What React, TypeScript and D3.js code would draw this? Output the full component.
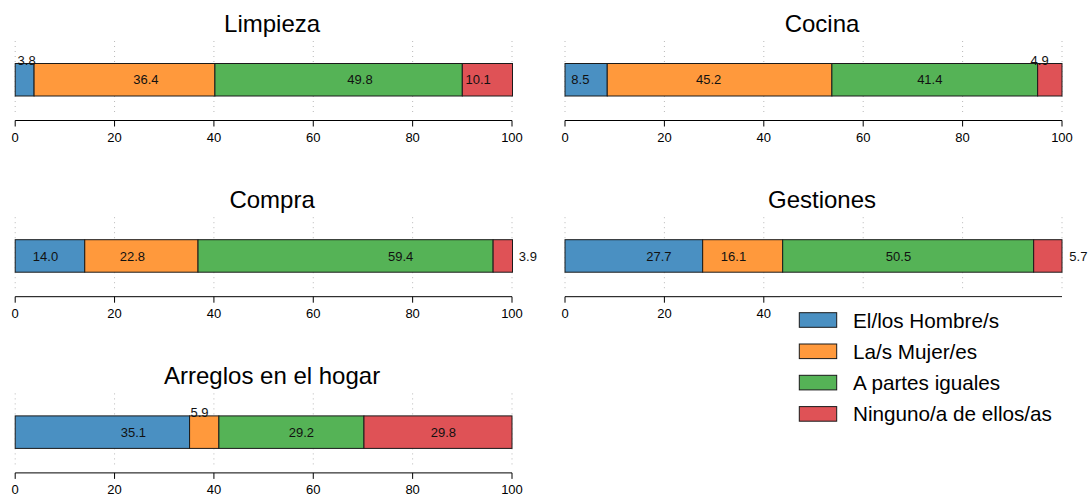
import React from "react";
import * as d3 from "d3";

const categories = ["El/los Hombre/s", "La/s Mujer/es", "A partes iguales", "Ninguno/a de ellos/as"];
const colors = ["#4A90C2", "#FF993C", "#55B356", "#DF5256"];
const tasks = ["Limpieza", "Cocina", "Compra", "Gestiones", "Arreglos en el hogar"];

const limpieza = [3.8, 36.4, 49.8, 10.1];
const cocina = [8.5, 45.2, 41.4, 4.9];
const compra = [14.0, 22.8, 59.4, 3.9];
const gestiones = [27.7, 16.1, 50.5, 5.7];
const arreglos = [35.1, 5.9, 29.2, 29.8];
const taskValues = [limpieza, cocina, compra, gestiones, arreglos];

// where each value label sits, in percent units
const limpiezaLabelAt = [2.3, 26.3, 69.4, 93.2];
const cocinaLabelAt = [3.1, 28.9, 73.4, 95.5];
const compraLabelAt = [6.1, 23.6, 77.6, 103.2];
const gestionesLabelAt = [18.9, 33.9, 67.1, 103.3];
const arreglosLabelAt = [23.8, 37.1, 57.6, 86.2];
const taskLabelAt = [limpiezaLabelAt, cocinaLabelAt, compraLabelAt, gestionesLabelAt, arreglosLabelAt];

const limpiezaLabelMode = ["above", "in", "in", "in"];
const cocinaLabelMode = ["in", "in", "in", "above"];
const compraLabelMode = ["in", "in", "in", "right"];
const gestionesLabelMode = ["in", "in", "in", "right"];
const arreglosLabelMode = ["in", "above", "in", "in"];
const taskLabelMode = [limpiezaLabelMode, cocinaLabelMode, compraLabelMode, gestionesLabelMode, arreglosLabelMode];

const xTicks = [0, 20, 40, 60, 80, 100];

const W = 1089;
const H = 495;
const FONT = "'Liberation Sans', Arial, Helvetica, sans-serif";
const fmt = d3.format(".1f");

const LEGEND = { x: 780, y: 297.5, w: 309, h: 143 };

function hiddenByLegend(px: number, py: number) {
  return px > LEGEND.x && px < LEGEND.x + LEGEND.w && py > LEGEND.y && py < LEGEND.y + LEGEND.h;
}

function Panel({ idx }: { idx: number }) {
  const col = idx % 2;
  const row = Math.floor(idx / 2);
  const x0 = col === 0 ? 15.2 : 565;
  const x1 = col === 0 ? 512 : 1062;
  const top = row * 176.2;
  const x = d3.scaleLinear().domain([0, 100]).range([x0, x1]);
  const values = taskValues[idx];
  const starts = d3.cumsum([0, ...values.slice(0, -1)]);
  const barTop = top + 63.5;
  const barH = 32.5;
  const axisY = top + 120.5;
  const labelAt = taskLabelAt[idx];
  const mode = taskLabelMode[idx];
  return (
    <g>
      <text x={(x0 + x1) / 2 + 8.5} y={top + 32} textAnchor="middle" fontSize={24} fill="#000">
        {tasks[idx]}
      </text>
      {xTicks.map((t) => (
        <line key={"g" + t} x1={x(t)} x2={x(t)} y1={top + 41} y2={top + 115}
          stroke="#b8b8b8" strokeWidth={1} strokeDasharray="1,4" />
      ))}
      {values.map((v, i) => (
        <rect key={"b" + i} x={x(starts[i])} y={barTop} width={x(starts[i] + v) - x(starts[i])}
          height={barH} fill={colors[i]} stroke="#1a1a1a" strokeWidth={1} />
      ))}
      {values.map((v, i) => {
        const m = mode[i];
        const y = m === "above" ? barTop + 1 : barTop + barH / 2 + 4.7;
        return (
          <text key={"l" + i} x={x(labelAt[i])} y={y} textAnchor="middle" fontSize={13} fill="#111">
            {fmt(v)}
          </text>
        );
      })}
      <line x1={x(0)} x2={x(100)} y1={axisY} y2={axisY} stroke="#000" strokeWidth={1} />
      {xTicks
        .filter((t) => !hiddenByLegend(x(t), axisY + 12))
        .map((t) => (
          <g key={"t" + t}>
            <line x1={x(t)} x2={x(t)} y1={axisY} y2={axisY + 6} stroke="#000" strokeWidth={1} />
            <text x={x(t)} y={axisY + 21.3} textAnchor="middle" fontSize={13} fill="#000">
              {t}
            </text>
          </g>
        ))}
    </g>
  );
}

export default function App() {
  return (
    <svg width={W} height={H} style={{ position: "absolute", left: 0, top: 0, fontFamily: FONT }}>
      <rect x={0} y={0} width={W} height={H} fill="#fff" />
      {tasks.map((_, i) => (
        <Panel key={i} idx={i} />
      ))}
      <g>
        <rect x={LEGEND.x} y={LEGEND.y} width={LEGEND.w} height={LEGEND.h} fill="#fff" />
        {categories.map((c, i) => (
          <g key={c}>
            <rect x={799.3} y={312.7 + i * 31.3} width={37.4} height={14.6} fill={colors[i]} stroke="#1a1a1a" strokeWidth={1} />
            <text x={853} y={327.5 + i * 31.3} fontSize={20.7} fill="#000">
              {c}
            </text>
          </g>
        ))}
      </g>
    </svg>
  );
}
